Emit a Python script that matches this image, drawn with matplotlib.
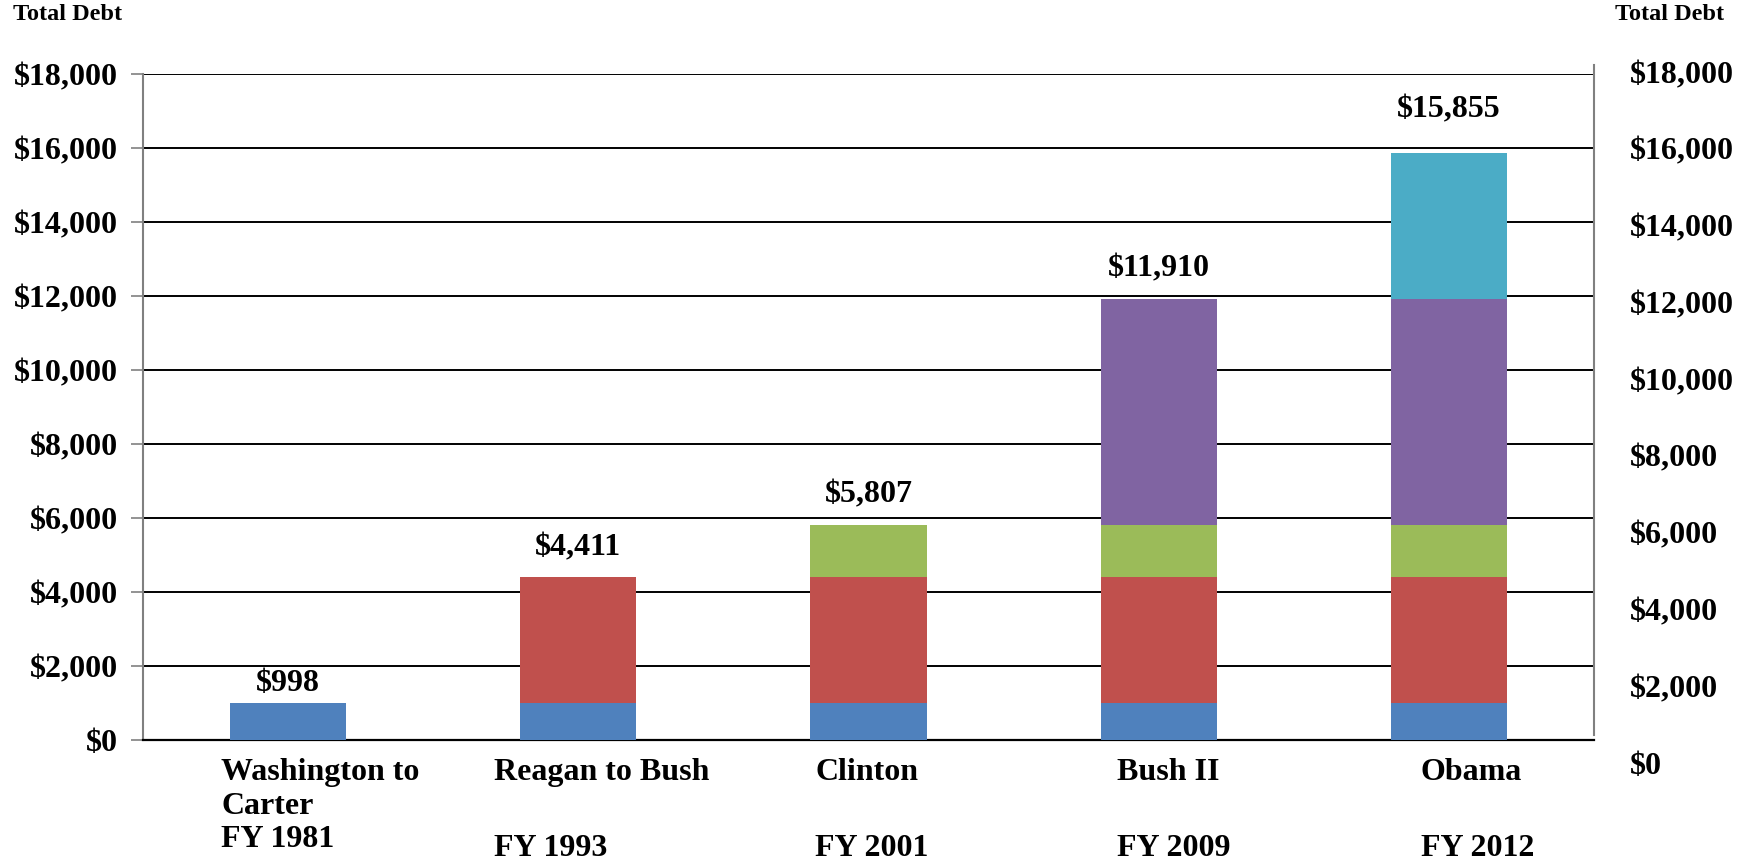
import matplotlib
matplotlib.use("Agg")
import matplotlib.pyplot as plt

plt.rcParams["font.family"] = ["Liberation Serif", "DejaVu Serif"]
plt.rcParams["font.weight"] = "bold"

# eras on the x axis and the fiscal year each one ends in
eras = ["Washington to\nCarter", "Reagan to Bush", "Clinton", "Bush II", "Obama"]
fiscal_years = ["FY 1981", "FY 1993", "FY 2001", "FY 2009", "FY 2012"]
totals = [998, 4411, 5807, 11910, 15855]

# debt added during each era ($ billions), stacked oldest first
added_washington_carter = [998, 998, 998, 998, 998]
added_reagan_bush = [0, 3413, 3413, 3413, 3413]
added_clinton = [0, 0, 1396, 1396, 1396]
added_bush2 = [0, 0, 0, 6103, 6103]
added_obama = [0, 0, 0, 0, 3945]

y_ticks = [0, 2000, 4000, 6000, 8000, 10000, 12000, 14000, 16000, 18000]

layers = [added_washington_carter, added_reagan_bush, added_clinton,
          added_bush2, added_obama]
colors = ["#4F81BD", "#C0504D", "#9BBB59", "#8064A2", "#4BACC6"]

W, H = 1749, 861
fig = plt.figure(figsize=(W / 100, H / 100), dpi=100)
ax = fig.add_axes([143 / W, 1 - 740 / H, (1594 - 143) / W, 666 / H])

x = list(range(len(eras)))
bottom = [0] * len(eras)
for vals, col in zip(layers, colors):
    ax.bar(x, vals, width=0.4, bottom=bottom, color=col, linewidth=0, zorder=3)
    bottom = [b + v for b, v in zip(bottom, vals)]

ax.set_xlim(-0.5, 4.5)
ax.set_ylim(0, 18000)
ax.set_yticks(y_ticks)
ax.set_yticklabels([f"${v:,}" for v in y_ticks])
ax.tick_params(axis="y", length=9, width=1.2, color="#808080", pad=9,
               labelsize=23)
ax.set_xticks([])
ax.grid(axis="y", color="black", linewidth=1.4, zorder=1)
ax.spines["top"].set_visible(False)
ax.spines["left"].set_color("#808080")
ax.spines["left"].set_linewidth(1.5)
ax.spines["right"].set_color("#808080")
ax.spines["right"].set_linewidth(1.5)
ax.spines["right"].set_bounds(135, 18240)
ax.spines["bottom"].set_color("black")
ax.spines["bottom"].set_linewidth(1.6)

# totals above the bars
label_gap = [20, 29, 30, 30, 43]
for xi, tot, gap in zip(x, totals, label_gap):
    ax.annotate(f"${tot:,}", (xi, tot), xytext=(0, gap * 0.72),
                textcoords="offset points", ha="center", va="center",
                fontsize=23, zorder=5)

# category labels under the axis
trans = ax.get_xaxis_transform()
name_shift = [-0.231, -0.290, -0.184, -0.145, -0.097]
for xi, name, fy, dx in zip(x, eras, fiscal_years, name_shift):
    lines = name.split("\n")
    for k, line in enumerate(lines):
        ax.text(xi + dx, (740 - 780 - 33.5 * k) / 666, line, transform=trans,
                ha="left", va="baseline", fontsize=23)
    fy_y = 847 if len(lines) > 1 else 856
    ax.text(xi + dx, (740 - fy_y) / 666, fy, transform=trans,
            ha="left", va="baseline", fontsize=23)

# right-hand scale
axr = fig.add_axes([143 / W, 1 - 763 / H, (1594 - 143) / W, 691 / H])
axr.set_ylim(0, 18000)
axr.yaxis.tick_right()
axr.set_yticks(y_ticks)
axr.set_yticklabels([f"${v:,}" for v in y_ticks])
axr.tick_params(axis="y", length=0, pad=26, labelsize=23)
axr.set_xticks([])
axr.patch.set_visible(False)
for s in axr.spines.values():
    s.set_visible(False)

fig.text(13 / W, 1 - 15 / H, "Total Debt", ha="left", va="center", fontsize=17.5)
fig.text(1615 / W, 1 - 15 / H, "Total Debt", ha="left", va="center", fontsize=17.5)

fig.savefig("out.png", dpi=100)
